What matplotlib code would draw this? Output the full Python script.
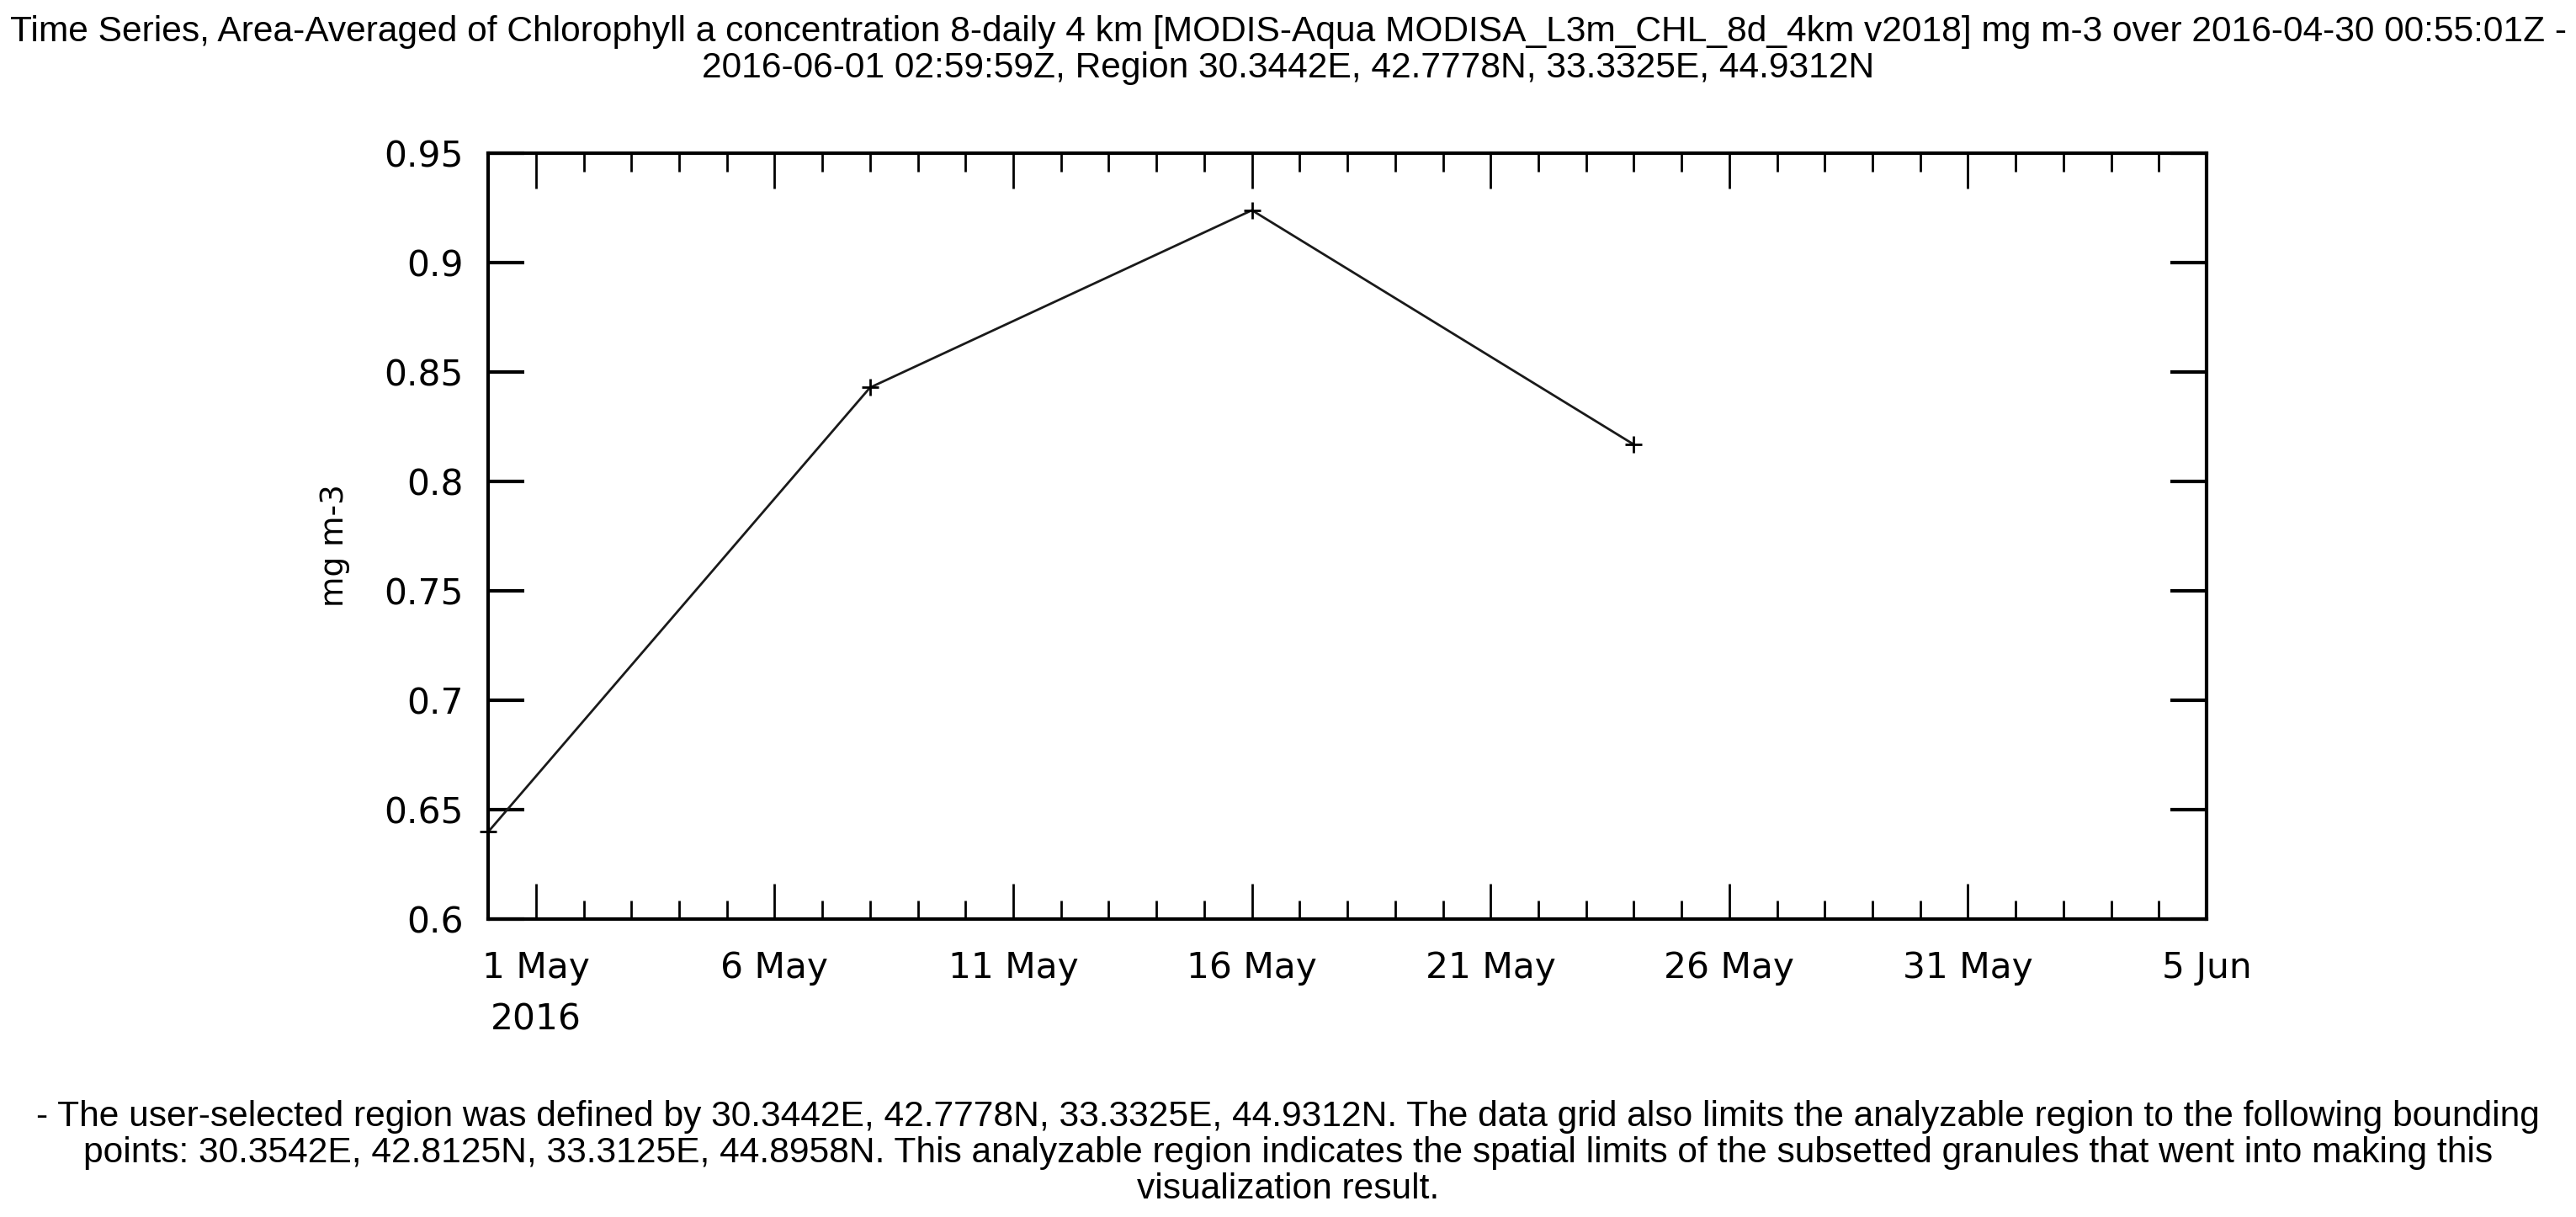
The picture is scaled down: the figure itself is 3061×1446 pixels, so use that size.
import numpy as np
import matplotlib
matplotlib.use("Agg")
import matplotlib.pyplot as plt
import matplotlib.dates as mdates
from datetime import datetime

dates = [datetime(2016, 4, 30), datetime(2016, 5, 8), datetime(2016, 5, 16), datetime(2016, 5, 24)]
chl = [0.640, 0.843, 0.924, 0.817]
yticks = [0.6, 0.65, 0.7, 0.75, 0.8, 0.85, 0.9, 0.95]
ytick_labels = ['0.6', '0.65', '0.7', '0.75', '0.8', '0.85', '0.9', '0.95']
xtick_days = [datetime(2016, 5, d) for d in (1, 6, 11, 16, 21, 26, 31)] + [datetime(2016, 6, 5)]
xtick_labels = ['1 May\n2016', '6 May', '11 May', '16 May', '21 May', '26 May', '31 May', '5 Jun']

title = ("Time Series, Area-Averaged of Chlorophyll a concentration 8-daily 4 km [MODIS-Aqua MODISA_L3m_CHL_8d_4km v2018] mg m-3 over 2016-04-30 00:55:01Z -\n"
         "2016-06-01 02:59:59Z, Region 30.3442E, 42.7778N, 33.3325E, 44.9312N")
footer = ("- The user-selected region was defined by 30.3442E, 42.7778N, 33.3325E, 44.9312N. The data grid also limits the analyzable region to the following bounding\n"
          "points: 30.3542E, 42.8125N, 33.3125E, 44.8958N. This analyzable region indicates the spatial limits of the subsetted granules that went into making this\n"
          "visualization result.")

fig = plt.figure(figsize=(30.61, 14.46), dpi=100)
ax = fig.add_axes([0.1895, 0.2445, 0.8566 - 0.1895, 0.874 - 0.2445])

ax.plot(dates, chl, color='#1a1a1a', lw=2, marker='+', markersize=15,
        markeredgewidth=2, markeredgecolor='black', clip_on=False)

ax.set_xlim(datetime(2016, 4, 30), datetime(2016, 6, 5))
ax.set_ylim(0.6, 0.95)
ax.set_yticks(yticks)
ax.set_yticklabels(ytick_labels)

ax.set_xticks(xtick_days)
ax.set_xticklabels(xtick_labels, va='top', ha='center')
ax.xaxis.set_minor_locator(mdates.DayLocator())
for lbl in ax.get_xticklabels():
    lbl.set_linespacing(1.6)

ax.tick_params(axis='x', which='major', direction='in', top=True, length=30, width=2, labelsize=30.5, pad=26)
ax.tick_params(axis='x', which='minor', direction='in', top=True, length=16, width=2)
ax.tick_params(axis='y', which='major', direction='in', right=True, length=31, width=3, labelsize=30.5, pad=21)
for s in ax.spines.values():
    s.set_linewidth(3)

ax.set_ylabel('mg m-3', fontsize=27)
ax.yaxis.label.set_va('center')
ax.yaxis.set_label_coords(-0.089, 0.488)

fig.text(0.5, 0.9589, title, ha='center', va='center', fontsize=30.6,
         family='Liberation Sans', linespacing=1.1)
fig.text(0.5, 0.0526, footer, ha='center', va='center', fontsize=30.6,
         family='Liberation Sans', linespacing=1.1)

fig.savefig('out.png', dpi=100)
